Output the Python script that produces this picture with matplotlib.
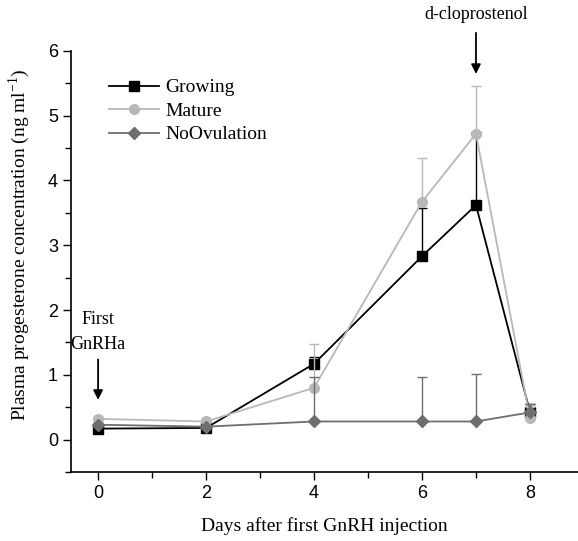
import numpy as np
import matplotlib
matplotlib.use('Agg')
import matplotlib.pyplot as plt
from matplotlib.lines import Line2D
from matplotlib.ticker import MultipleLocator

# Days after first GnRH injection
days = [0, 2, 4, 6, 7, 8]

growing = [0.17, 0.18, 1.17, 2.83, 3.62, 0.43]
growing_err = [0.06, 0.05, 0.11, 0.74, 1.13, 0.12]
mature = [0.32, 0.28, 0.80, 3.67, 4.72, 0.33]
mature_err = [0.04, 0.04, 0.68, 0.68, 0.73, 0.17]
noovul = [0.23, 0.20, 0.28, 0.28, 0.28, 0.42]
noovul_err = [0.03, 0.03, 0.68, 0.69, 0.73, 0.13]

series = [
    ('Growing', growing, growing_err, 's', '#000000'),
    ('Mature', mature, mature_err, 'o', '#b8b8b8'),
    ('NoOvulation', noovul, noovul_err, 'D', '#6e6e6e'),
]

serif = ['Liberation Serif', 'DejaVu Serif']
sans = ['Liberation Sans', 'DejaVu Sans']

fig = plt.figure(figsize=(5.78, 5.41), dpi=100)
ax = fig.add_axes([0.123, 0.1275, 0.877, 0.7785])

# Mature drawn first so the darker lines lie on top
handles = []
for i in [1, 0, 2]:
    name, vals, err, mk, col = series[i]
    ms = 6 if mk == 'D' else 7
    ax.errorbar(days, vals, yerr=[np.zeros(len(err)), err],
                color=col, marker=mk, markersize=ms, linewidth=1.3,
                elinewidth=1.0, capsize=3.5, capthick=1.0, zorder=3 + i)
for name, vals, err, mk, col in series:
    ms = 6 if mk == 'D' else 7
    handles.append(Line2D([], [], color=col, marker=mk, markersize=ms,
                          linewidth=1.3))

ax.legend(handles, [s[0] for s in series],
          loc='upper left', bbox_to_anchor=(0.04, 0.975),
          frameon=False, prop={'family': serif, 'size': 14},
          handlelength=2.6, handletextpad=0.3, labelspacing=0.3)

ax.set_xlim(-0.5, 8.89)
ax.set_ylim(-0.5, 6)
ax.spines['top'].set_visible(False)
ax.spines['right'].set_visible(False)
ax.spines['left'].set_linewidth(1.2)
ax.spines['bottom'].set_linewidth(1.2)
ax.xaxis.set_major_locator(MultipleLocator(2))
ax.xaxis.set_minor_locator(MultipleLocator(1))
ax.yaxis.set_major_locator(MultipleLocator(1))
ax.yaxis.set_minor_locator(MultipleLocator(0.5))
ax.tick_params(which='both', direction='out', width=1.0)
ax.tick_params(which='major', length=6)
ax.tick_params(which='minor', length=4)
ax.set_xticks([0, 2, 4, 6, 8])
for lab in ax.get_xticklabels() + ax.get_yticklabels():
    lab.set_fontfamily(sans)
    lab.set_fontsize(13)

ax.set_xlabel('Days after first GnRH injection', fontfamily=serif,
              fontsize=14, labelpad=11)
ax.set_ylabel('Plasma progesterone concentration (ng ml$^{\\mathregular{-1}}$)',
              fontfamily=serif, fontsize=14, labelpad=10)
ax.yaxis.set_label_coords(-0.078, 0.54)

# Arrows marking treatments
ax.annotate('', xy=(7, 5.6), xytext=(7, 6.32), annotation_clip=False,
            arrowprops=dict(arrowstyle='-|>', color='black', lw=1.3,
                            mutation_scale=14))
ax.text(7, 6.56, 'd-cloprostenol', ha='center', va='center',
        fontfamily=serif, fontsize=13, clip_on=False)
ax.annotate('', xy=(0, 0.57), xytext=(0, 1.28),
            arrowprops=dict(arrowstyle='-|>', color='black', lw=1.3,
                            mutation_scale=14))
ax.text(0, 1.85, 'First', ha='center', va='center', fontfamily=serif, fontsize=13)
ax.text(0, 1.47, 'GnRHa', ha='center', va='center', fontfamily=serif, fontsize=13)

fig.savefig('out.png', dpi=100)
